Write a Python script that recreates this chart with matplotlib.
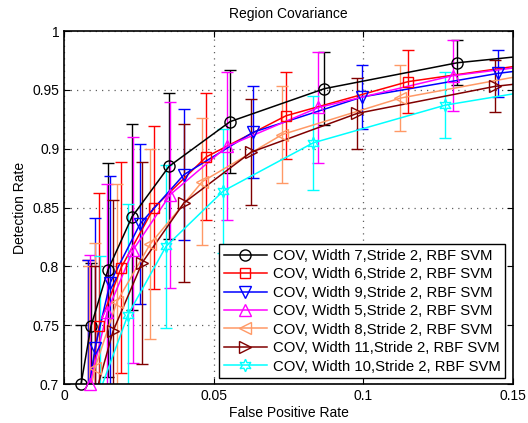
import matplotlib
matplotlib.use('Agg')
import matplotlib.pyplot as plt
from matplotlib.lines import Line2D
from matplotlib.ticker import FormatStrFormatter
import numpy as np

plt.rcParams['font.family'] = ['Liberation Sans', 'DejaVu Sans']

# False positive rate / detection rate / error (std) per window width
fpr_w7 = [0.0057, 0.0090, 0.0147, 0.0227, 0.0351, 0.0555, 0.0870, 0.1314, 0.1700]
dr_w7 = [0.700, 0.749, 0.797, 0.842, 0.885, 0.923, 0.951, 0.973, 0.983]
err_w7 = [0.050, 0.054, 0.091, 0.079, 0.062, 0.044, 0.031, 0.019, 0.015]

fpr_w6 = [0.0080, 0.0117, 0.0191, 0.0301, 0.0475, 0.0742, 0.1150, 0.1700]
dr_w6 = [0.690, 0.749, 0.799, 0.850, 0.893, 0.928, 0.957, 0.977]
err_w6 = [0.115, 0.113, 0.090, 0.069, 0.054, 0.037, 0.027, 0.020]

fpr_w9 = [0.0080, 0.0104, 0.0154, 0.0254, 0.0401, 0.0632, 0.0997, 0.1450, 0.1800]
dr_w9 = [0.690, 0.731, 0.786, 0.836, 0.878, 0.914, 0.944, 0.964, 0.975]
err_w9 = [0.115, 0.110, 0.091, 0.068, 0.056, 0.039, 0.027, 0.020, 0.015]

fpr_w5 = [0.0087, 0.0144, 0.0231, 0.0355, 0.0545, 0.0850, 0.1298, 0.1700]
dr_w5 = [0.700, 0.761, 0.814, 0.861, 0.902, 0.935, 0.962, 0.975]
err_w5 = [0.110, 0.109, 0.096, 0.079, 0.063, 0.047, 0.030, 0.020]

fpr_w8 = [0.0085, 0.0104, 0.0177, 0.0288, 0.0462, 0.0729, 0.1124, 0.1700]
dr_w8 = [0.690, 0.714, 0.770, 0.819, 0.872, 0.912, 0.943, 0.970]
err_w8 = [0.110, 0.106, 0.100, 0.081, 0.054, 0.041, 0.028, 0.020]

fpr_w11 = [0.0104, 0.0164, 0.0261, 0.0401, 0.0625, 0.0980, 0.1441, 0.1800]
dr_w11 = [0.690, 0.745, 0.803, 0.854, 0.897, 0.930, 0.953, 0.963]
err_w11 = [0.110, 0.111, 0.086, 0.067, 0.045, 0.030, 0.022, 0.018]

fpr_w10 = [0.0120, 0.0214, 0.0341, 0.0532, 0.0833, 0.1274, 0.1700]
dr_w10 = [0.694, 0.759, 0.817, 0.864, 0.905, 0.937, 0.955]
err_w10 = [0.115, 0.094, 0.069, 0.053, 0.040, 0.028, 0.020]

labels = ['COV, Width 7,Stride 2, RBF SVM', 'COV, Width 6,Stride 2, RBF SVM',
          'COV, Width 9,Stride 2, RBF SVM', 'COV, Width 5,Stride 2, RBF SVM',
          'COV, Width 8,Stride 2, RBF SVM', 'COV, Width 11,Stride 2, RBF SVM',
          'COV, Width 10,Stride 2, RBF SVM']

series = [(fpr_w7, dr_w7, err_w7), (fpr_w6, dr_w6, err_w6), (fpr_w9, dr_w9, err_w9),
          (fpr_w5, dr_w5, err_w5), (fpr_w8, dr_w8, err_w8), (fpr_w11, dr_w11, err_w11),
          (fpr_w10, dr_w10, err_w10)]
colores = ['black', '#ff0000', '#0000ff', '#ff00ff', '#ff9966', '#800000', '#00ffff']
marcadores = ['o', 's', 'v', '^', '<', '>', (6, 1, 0)]  # ultimo: estrella de 6 puntas
tam = [8, 7, 8, 8, 8, 8, 9]

fig = plt.figure(figsize=(5.28, 4.23), dpi=100)
ax = fig.add_axes([64 / 528, 1 - 384 / 423, 449 / 528, 353 / 423])

handles = []
for (x, y, e), c, m, s, lab in zip(series, colores, marcadores, tam, labels):
    ax.errorbar(x, y, yerr=e, color=c, lw=1.1, elinewidth=1.0, capsize=4, capthick=1.0)
    x = np.array(x)
    y = np.array(y)
    dentro = (x <= 0.15) & (y >= 0.699)
    ax.plot(x[dentro], y[dentro], ls='none', marker=m, ms=s, mfc='none', mec=c,
            mew=1.0, clip_on=False, zorder=3)
    handles.append(Line2D([], [], color=c, lw=1.1, marker=m, ms=s, mfc='none', mec=c, mew=1.0))

ax.set_xlim(0, 0.15)
ax.set_ylim(0.7, 1)
ax.set_xticks([0, 0.05, 0.1, 0.15])
ax.set_yticks([0.7, 0.75, 0.8, 0.85, 0.9, 0.95, 1])
ax.xaxis.set_major_formatter(FormatStrFormatter('%g'))
ax.yaxis.set_major_formatter(FormatStrFormatter('%g'))
ax.tick_params(direction='in', top=True, right=True, length=4, labelsize=10)
ax.grid(True, linestyle=(0, (1, 4)), color='#606060', lw=0.9)
for sp in ax.spines.values():
    sp.set_linewidth(1.2)

ax.set_title('Region Covariance', fontsize=10, pad=9.5)
ax.set_xlabel('False Positive Rate', fontsize=10, labelpad=2)
ax.set_ylabel('Detection Rate', fontsize=10, labelpad=4)

leg = ax.legend(handles, labels, loc='lower right', bbox_to_anchor=(0.982, 0.017),
                fontsize=10.7, fancybox=False, framealpha=1, edgecolor='black',
                handlelength=2.9, handletextpad=0.4, labelspacing=0.3,
                borderpad=0.3, borderaxespad=0)
leg.get_frame().set_linewidth(1.0)

fig.savefig('out.png', dpi=100)
